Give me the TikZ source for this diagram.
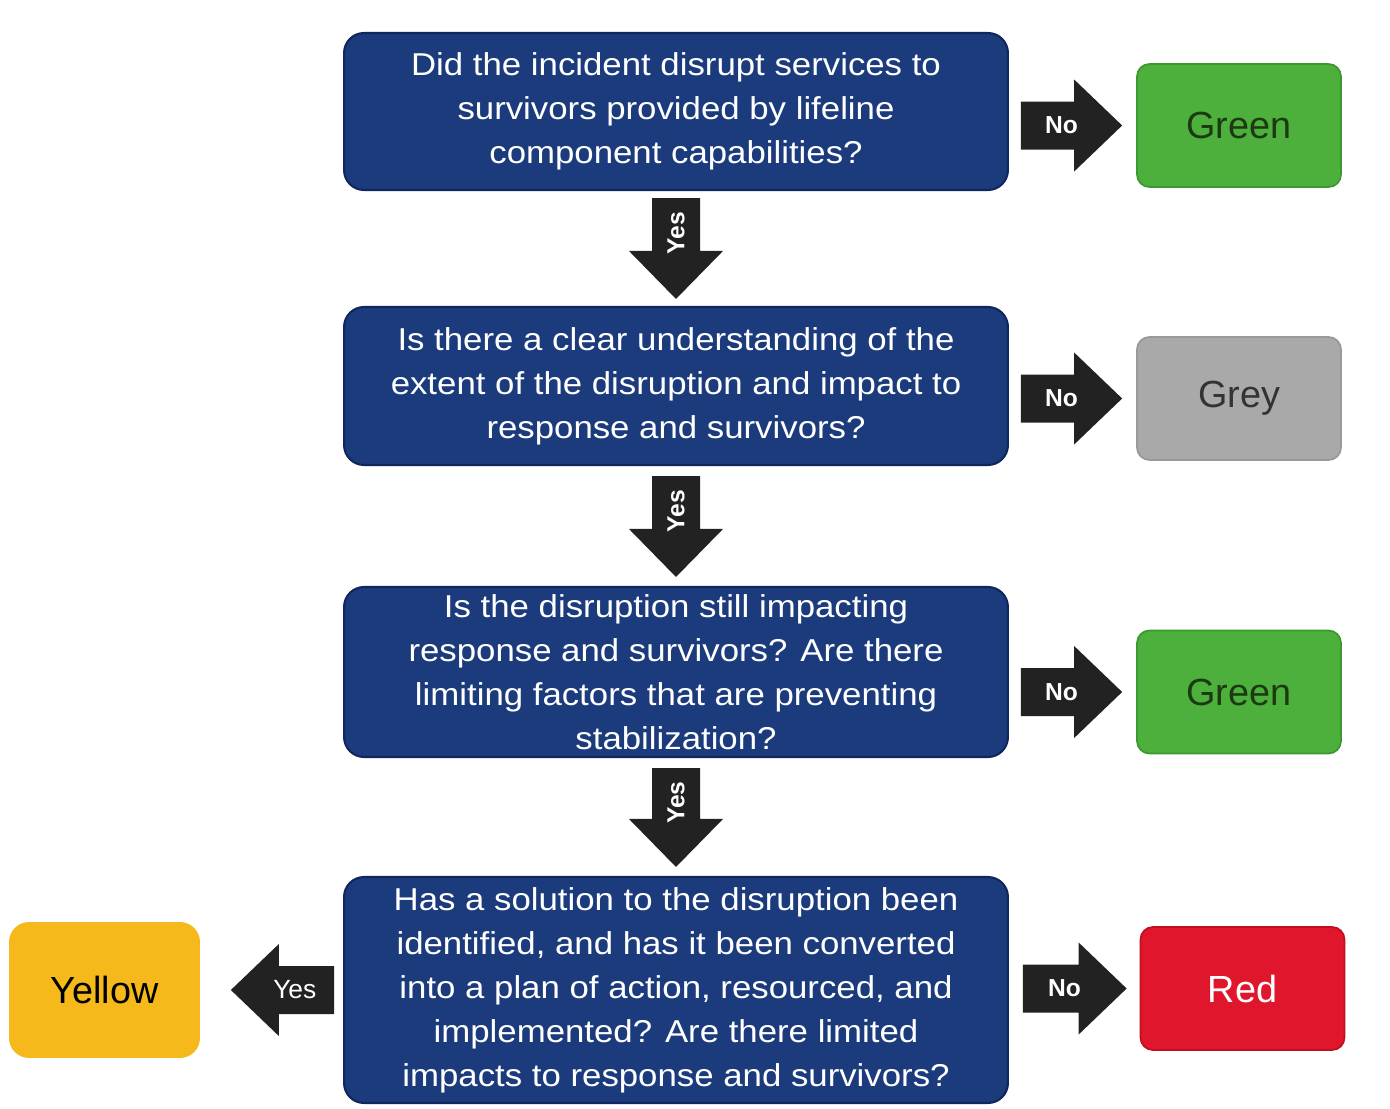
\documentclass[tikz,border=0pt]{standalone}
\usepackage{fontspec}
\setmainfont{Liberation Sans}
\newfontfamily\qfont{Liberation Sans}[FakeStretch=1.1]
\usetikzlibrary{calc}
\definecolor{navy}{HTML}{1C3B7C}
\definecolor{navyedge}{HTML}{10275E}
\definecolor{okgreen}{HTML}{4DAF3C}
\definecolor{okgreenedge}{HTML}{3E9830}
\definecolor{greentext}{HTML}{1C3A12}
\definecolor{greybox}{HTML}{A9A9A9}
\definecolor{greyedge}{HTML}{999999}
\definecolor{redbox}{HTML}{E0172C}
\definecolor{rededge}{HTML}{C0101F}
\definecolor{yellowbox}{HTML}{F5B91B}
\definecolor{arrowfill}{HTML}{222222}
\newcommand\harrow[3]{%
  \fill[arrowfill] ($(#1)+(0,-24)$) -- ($(#2)+({-48*(#3)},-24)$) -- ($(#2)+({-48*(#3)},-46)$) -- (#2) -- ($(#2)+({-48*(#3)},46)$) -- ($(#2)+({-48*(#3)},24)$) -- ($(#1)+(0,24)$) -- cycle;}
\newcommand\varrow[2]{%
  \fill[arrowfill] ($(#1)+(-24,0)$) -- ($(#2)+(-24,-48)$) -- ($(#2)+(-47,-48)$) -- (#2) -- ($(#2)+(47,-48)$) -- ($(#2)+(24,-48)$) -- ($(#1)+(24,0)$) -- cycle;}
\begin{document}
\begin{tikzpicture}[x=0.02cm,y=-0.02cm,
  question/.style={draw=navyedge, line width=1.2pt, fill=navy, rounded corners=0.4cm,
    minimum width=13.28cm, inner sep=0pt, align=center, text=white,
    font=\qfont\fontsize{18}{25}\selectfont},
  result/.style={rounded corners=0.25cm, minimum width=4.08cm, minimum height=2.46cm,
    inner sep=0pt, line width=1pt, font=\fontsize{21.5}{24}\selectfont},
  lbl/.style={text=white, inner sep=0pt, font=\bfseries\fontsize{14}{16}\selectfont}]
\useasboundingbox[fill=white] (0,0) rectangle (1390,1109);

\node[question, minimum height=3.14cm] (q1) at (676,111.5)
  {Did the incident disrupt services to\\survivors provided by lifeline\\component capabilities?};
\node[question, minimum height=3.16cm] (q2) at (676,386)
  {Is there a clear understanding of the\\extent of the disruption and impact to\\response and survivors?};
\node[question, minimum height=3.40cm] (q3) at (676,672)
  {Is the disruption still impacting\\response and survivors? Are there\\limiting factors that are preventing\\stabilization?};
\node[question, minimum height=4.52cm] (q4) at (676,990)
  {Has a solution to the disruption been\\identified, and has it been converted\\into a plan of action, resourced, and\\implemented? Are there limited\\impacts to response and survivors?};

\node[result, fill=okgreen, draw=okgreenedge, text=greentext] (g1) at (1239,125.5) {Green};
\node[result, fill=greybox, draw=greyedge, text=black!80] (gr) at (1239,398.5) {Grey};
\node[result, fill=okgreen, draw=okgreenedge, text=greentext] (g2) at (1239,692) {Green};
\node[result, fill=redbox, draw=rededge, text=white] (rd) at (1242.5,988.5) {Red};
\node[result, fill=yellowbox, rounded corners=0.4cm, minimum width=3.82cm, minimum height=2.72cm,
  text=black] (yl) at (104.5,990) {Yellow};

% No arrows
\coordinate (n1s) at ($(q1.east|-g1.west)+(12,0)$); \coordinate (n1t) at ($(g1.west)+(-14,0)$);
\coordinate (n2s) at ($(q2.east|-gr.west)+(12,0)$); \coordinate (n2t) at ($(gr.west)+(-14,0)$);
\coordinate (n3s) at ($(q3.east|-g2.west)+(12,0)$); \coordinate (n3t) at ($(g2.west)+(-14,0)$);
\coordinate (n4s) at ($(q4.east|-rd.west)+(14,0)$); \coordinate (n4t) at ($(rd.west)+(-13,0)$);
\harrow{n1s}{n1t}{1} \harrow{n2s}{n2t}{1} \harrow{n3s}{n3t}{1} \harrow{n4s}{n4t}{1}
\node[lbl] (ln1) at ($(n1s)!0.4!(n1t)$) {No};
\node[lbl] (ln2) at ($(n2s)!0.4!(n2t)$) {No};
\node[lbl] (ln3) at ($(n3s)!0.4!(n3t)$) {No};
\node[lbl] (ln4) at ($(n4s)!0.4!(n4t)$) {No};

% Yes left arrow
\coordinate (y4s) at ($(q4.west|-yl.east)+(-9,0)$); \coordinate (y4t) at ($(yl.east)+(30,0)$);
\harrow{y4s}{y4t}{-1}
\node[lbl, font=\fontsize{15}{17}\selectfont] (ly4) at ($(y4s)!0.38!(y4t)$) {Yes};

% Yes down arrows
\coordinate (a1s) at ($(q1.south)+(0,7)$); \coordinate (a1t) at ($(q2.north)+(0,-7)$);
\coordinate (a2s) at ($(q2.south)+(0,10)$); \coordinate (a2t) at ($(q3.north)+(0,-9)$);
\coordinate (a3s) at ($(q3.south)+(0,10)$); \coordinate (a3t) at ($(q4.north)+(0,-9)$);
\varrow{a1s}{a1t} \varrow{a2s}{a2t} \varrow{a3s}{a3t}
\node[lbl, rotate=90] (ly1) at ($(a1s)!0.35!(a1t)$) {Yes};
\node[lbl, rotate=90] (ly2) at ($(a2s)!0.35!(a2t)$) {Yes};
\node[lbl, rotate=90] (ly3) at ($(a3s)!0.35!(a3t)$) {Yes};
\end{tikzpicture}
\end{document}
